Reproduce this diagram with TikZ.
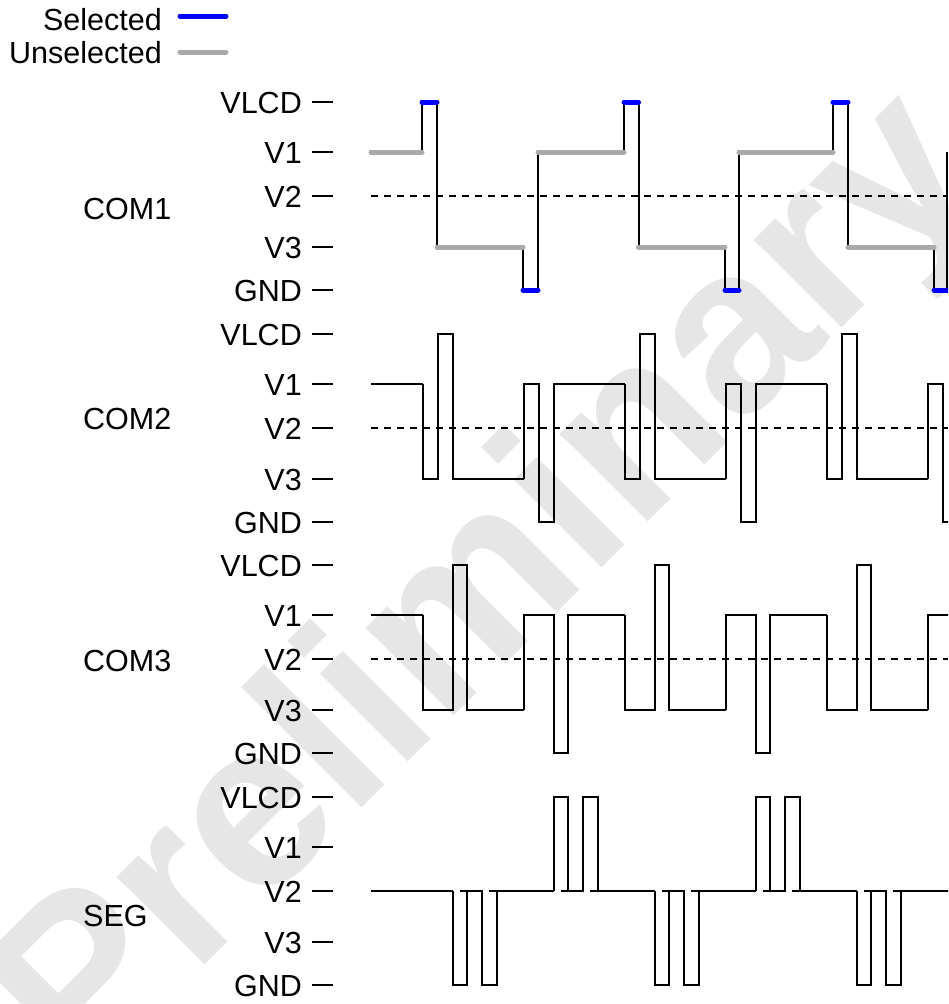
\documentclass[tikz,border=0pt]{standalone}
\usepackage{fontspec}
\setmainfont{Liberation Sans}
\definecolor{selblue}{HTML}{0000FF}
\definecolor{unselgray}{HTML}{AAAAAA}
\definecolor{wmgray}{HTML}{E6E6E6}
\begin{document}
\begin{tikzpicture}[x=1pt,y=-1pt,
  lbl/.style={font=\fontsize{30.5}{33}\selectfont, inner sep=0pt},
  wave/.style={line width=2pt, black, line join=miter},
  sel/.style={line width=5pt, selblue, line cap=round},
  unsel/.style={line width=5pt, unselgray, line cap=round},
  vref/.style={line width=2pt, black, dash pattern=on 7pt off 6pt},
  tick/.style={line width=1.6pt, black}]
\useasboundingbox (0,0) rectangle (948,1004);
\fill[white] (0,0) rectangle (948,1004);
\begin{scope}
\clip (0,0) rectangle (948,1004);
% watermark
\node[rotate=45, text=wmgray, inner sep=0pt, font=\fontsize{235}{235}\selectfont\bfseries] (wm) at (492,592) {Preliminary};

% legend
\node[lbl, anchor=base east] (selt) at (162,30.5) {Selected};
\node[lbl, anchor=base east] (unselt) at (162,63) {Unselected};
\draw[sel] (180,16) -- (226,16);
\draw[unsel] (180,52) -- (226,52);

% level labels and ticks
\foreach \B [count=\g] in {102,334,565,797}{
  \foreach \o/\t [count=\i] in {0/VLCD,50/V1,94/V2,145/V3,188/GND}{
    \node[lbl, anchor=base east] (l\g-\i) at (302,{\B+\o+11}) {\t};
    \draw[tick] (312,{\B+\o}) -- (333,{\B+\o});
  }
}

% row labels
\node[lbl, anchor=base west] (com1) at (83,219) {COM1};
\node[lbl, anchor=base west] (com2) at (83,429) {COM2};
\node[lbl, anchor=base west] (com3) at (83,671) {COM3};
\node[lbl, anchor=base west] (seg) at (83,926) {SEG};

% dashed V2 references
\draw[vref] (371,196) -- (948,196);
\draw[vref] (371,428) -- (948,428);
\draw[vref] (371,659) -- (948,659);

% COM1
\draw[wave] (422,152)--(422,102) (437,102)--(437,247) (523,247)--(523,290) (538,290)--(538,152)
  (624,152)--(624,102) (638.5,102)--(638.5,247) (725,247)--(725,290) (739,290)--(739,152)
  (833,152)--(833,102) (848,102)--(848,247) (934,247)--(934,290) (947,290)--(947,152);
\draw[unsel] (371,152)--(422,152) (437,247)--(523,247) (538,152)--(624,152)
  (638.5,247)--(725,247) (739,152)--(833,152) (848,247)--(934,247);
\draw[sel] (422,102)--(437,102) (523,290)--(538,290) (624,102)--(638.5,102)
  (725,290)--(739,290) (833,102)--(848,102) (934,290)--(952,290);

% COM2 and COM3
\def\u{14.65}
\foreach \B/\s in {334/1,565/2}{
  \draw[wave] (371,{\B+50}) -- (423.3,{\B+50});
  \foreach \n/\pb/\b/\p in {0/50/145/0,1/145/50/188,2/50/145/0,3/145/50/188,4/50/145/0,5/145/50/188}{
    \pgfmathsetmacro\F{423.3+101*\n}
    \draw[wave] (\F,{\B+\pb}) -- (\F,{\B+\b}) -- ({\F+\s*\u},{\B+\b}) -- ({\F+\s*\u},{\B+\p})
      -- ({\F+(\s+1)*\u},{\B+\p}) -- ({\F+(\s+1)*\u},{\B+\b}) -- ({\F+101},{\B+\b});
  }
}

% SEG
\draw[wave] (371,891) -- ({423.3+2*\u},891);
\foreach \n/\p in {0/985,1/797,2/985,3/797,4/985}{
  \pgfmathsetmacro\F{423.3+101*\n}
  \draw[wave] ({\F+2*\u},891) -- ({\F+2*\u},\p) -- ({\F+3*\u},\p) -- ({\F+3*\u},891);
  \draw[wave] ({\F+2.5*\u},891) -- ({\F+4*\u},891) -- ({\F+4*\u},\p) -- ({\F+5*\u},\p) -- ({\F+5*\u},891);
  \draw[wave] ({\F+4.5*\u},891) -- ({\F+101+2*\u},891);
}
\end{scope}
\end{tikzpicture}
\end{document}
